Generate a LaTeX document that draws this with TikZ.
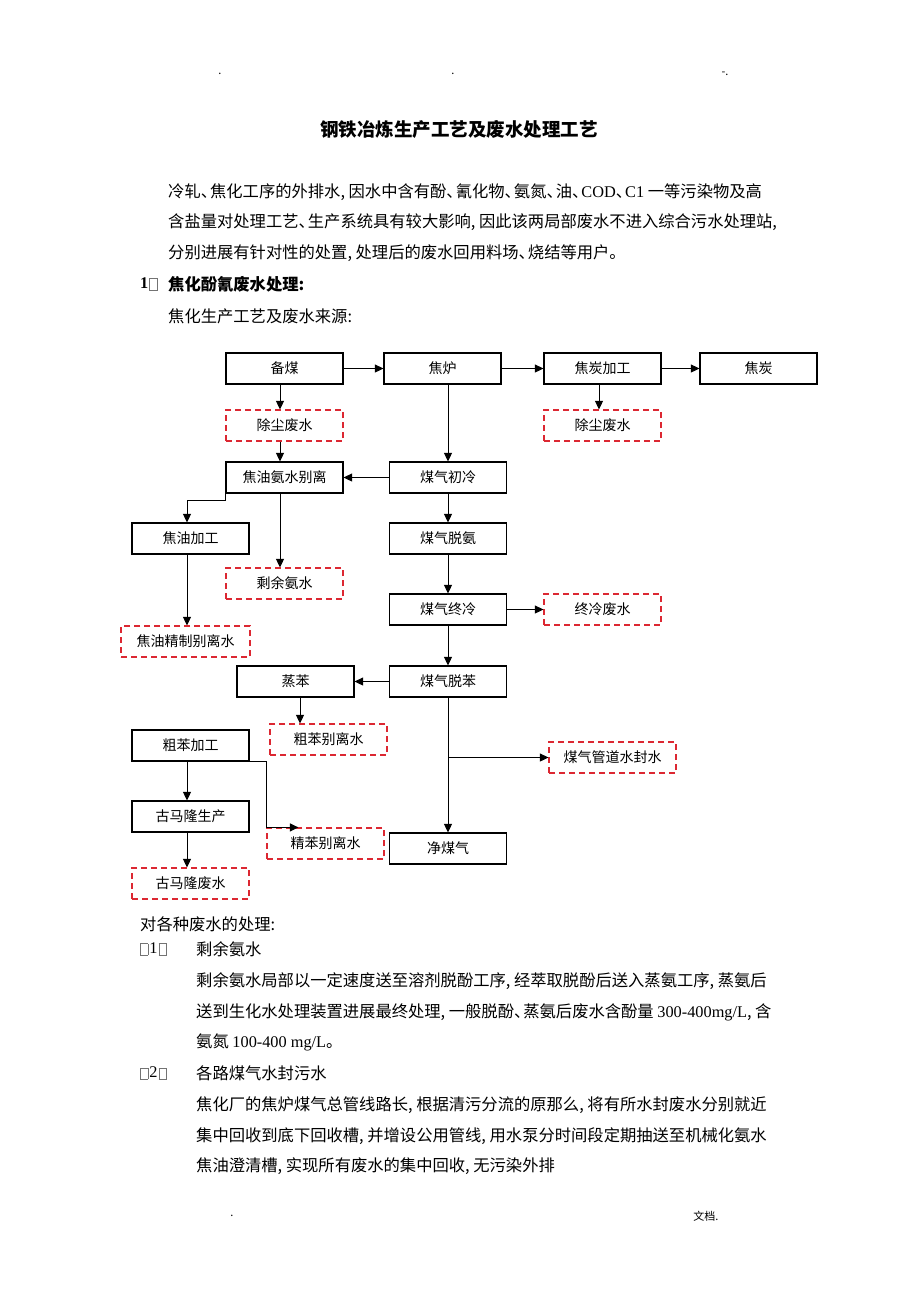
\documentclass[tikz,border=0pt]{standalone}
\usepackage{fontspec}
\setmainfont{Liberation Serif}
\newfontfamily\cjk{Noto Sans CJK SC}
\usetikzlibrary{arrows.meta}
\definecolor{wred}{RGB}{220,40,50}
\newcommand\mbx{\kern1pt{\color{black!55}\fboxsep=0pt\fboxrule=0.6pt\raisebox{-1pt}{\fbox{\rule{0pt}{10.5pt}\rule{7pt}{0pt}}}}\kern1pt}
\newcommand\lat[1]{{\rmfamily #1}}
\newcommand\dun{、\kern-7pt}
\begin{document}
\begin{tikzpicture}[x=1pt,y=-1pt,
 proc/.style={draw=black,line width=1.2pt,minimum width=117pt,minimum height=31pt,inner sep=0pt,font=\cjk\fontsize{14}{14}\selectfont},
 waste/.style={proc,draw=wred,dash pattern=on 6pt off 4pt},
 arr/.style={-{Triangle[length=8.5pt,width=8pt]},line width=1pt},
 body/.style={anchor=west,inner sep=0pt,font=\cjk\fontsize{16.3}{16.3}\selectfont},
 tiny/.style={inner sep=0pt,font=\cjk\fontsize{11}{11}\selectfont}
]
\useasboundingbox[fill=white] (0,0) rectangle (920,1302);

% header / footer marks
\node[tiny] (h1) at (220,74) {.};
\node[tiny] (h2) at (453,74) {.};
\node[tiny] (h3) at (725,74) {-.};
\node[tiny] (f1) at (232,1216) {.};
\node[tiny] (f2) at (706,1216) {文档.};

% title
\node[inner sep=0pt,font=\cjk\bfseries\fontsize{18.5}{18.5}\selectfont] (title) at (459,130) {钢铁冶炼生产工艺及废水处理工艺};

% intro
\node[body] (p1) at (168,192) {冷轧\dun 焦化工序的外排水, 因水中含有酚\dun 氰化物\dun 氨氮\dun 油\dun\lat{COD}\dun\lat{C1} 一等污染物及高};
\node[body] (p2) at (168,222) {含盐量对处理工艺\dun 生产系统具有较大影响, 因此该两局部废水不进入综合污水处理站,};
\node[body] (p3) at (168,253) {分别进展有针对性的处置, 处理后的废水回用料场\dun 烧结等用户。};
\node[body,font=\rmfamily\bfseries\fontsize{16.3}{16.3}\selectfont] (n1) at (140,284) {1\mbx};
\node[body,font=\cjk\bfseries\fontsize{16.3}{16.3}\selectfont] (s1) at (168,284) {焦化酚氰废水处理:};
\node[body] (s2) at (168,316) {焦化生产工艺及废水来源:};

% flowchart
\node[proc] (beimei) at (284.5,368.5) {备煤};
\node[proc] (jiaolu) at (442.5,368.5) {焦炉};
\node[proc] (jtjg) at (602.5,368.5) {焦炭加工};
\node[proc] (jt) at (758.5,368.5) {焦炭};
\node[waste] (ccfs1) at (284.5,425.5) {除尘废水};
\node[waste] (ccfs2) at (602.5,425.5) {除尘废水};
\node[proc] (jyas) at (284.5,477.5) {焦油氨水别离};
\node[proc] (mqcl) at (448,477.5) {煤气初冷};
\node[proc] (jyjg) at (190.5,538.5) {焦油加工};
\node[waste] (syas) at (284.5,583.5) {剩余氨水};
\node[waste,minimum width=129pt] (jyjz) at (185.5,641.5) {焦油精制别离水};
\node[proc] (mqta) at (448,538.5) {煤气脱氨};
\node[proc] (mqzl) at (448,609.5) {煤气终冷};
\node[waste] (zlfs) at (602.5,609.5) {终冷废水};
\node[proc] (mqtb) at (448,681.5) {煤气脱苯};
\node[proc] (zb) at (295.5,681.5) {蒸苯};
\node[waste] (cbfl) at (328.5,739.5) {粗苯别离水};
\node[proc] (cbjg) at (190.5,745.5) {粗苯加工};
\node[proc] (gmlsc) at (190.5,816.5) {古马隆生产};
\node[waste] (gmlfs) at (190.5,883.5) {古马隆废水};
\node[waste] (jbfl) at (325.5,843.5) {精苯别离水};
\node[proc] (jmq) at (448,848.5) {净煤气};
\node[waste,minimum width=127pt] (mqgd) at (612.5,757.5) {煤气管道水封水};

\draw[arr] (beimei) -- (jiaolu);
\draw[arr] (jiaolu) -- (jtjg);
\draw[arr] (jtjg) -- (jt);
\draw[arr] ([xshift=-4.5pt]beimei.south) -- ([xshift=-4.5pt]ccfs1.north);
\draw[arr] ([xshift=-3.5pt]jtjg.south) -- ([xshift=-3.5pt]ccfs2.north);
\draw[arr] ([xshift=-4.5pt]ccfs1.south) -- ([xshift=-4.5pt]jyas.north);
\draw[arr] (mqcl.north |- jiaolu.south) -- (mqcl.north);
\draw[arr] (mqcl.west) -- (jyas.east);
\draw[arr] ([yshift=2pt]jyas.south west) -- ++(0,9) -| ([xshift=-3.5pt]jyjg.north);
\draw[arr] ([xshift=-4.5pt]jyas.south) -- ([xshift=-4.5pt]syas.north);
\draw[arr] ([xshift=-3.5pt]jyjg.south) -- ([xshift=1.5pt]jyjz.north);
\draw[arr] (mqcl) -- (mqta);
\draw[arr] (mqta) -- (mqzl);
\draw[arr] (mqzl) -- (zlfs);
\draw[arr] (mqzl) -- (mqtb);
\draw[arr] (mqtb) -- (zb);
\draw[arr] ([xshift=4.5pt]zb.south) -- ([xshift=-28.5pt]cbfl.north);
\draw[arr] ([xshift=-3.5pt]cbjg.south) -- ([xshift=-3.5pt]gmlsc.north);
\draw[arr] ([xshift=-3.5pt]gmlsc.south) -- ([xshift=-3.5pt]gmlfs.north);
\draw[arr] ([xshift=-17pt]cbjg.south east) -- ++(34,0) |- ([xshift=32pt]jbfl.north west);
\draw[arr] (mqtb) -- (jmq);
\draw[arr] (mqtb.south |- mqgd.west) -- (mqgd.west);

% treatment text
\node[body] (t0) at (140,924) {对各种废水的处理:};
\node[body,font=\rmfamily\fontsize{16.3}{16.3}\selectfont] (n2) at (139,949) {\mbx 1\mbx};
\node[body] (t1) at (196,949) {剩余氨水};
\node[body] (t2) at (196,981) {剩余氨水局部以一定速度送至溶剂脱酚工序, 经萃取脱酚后送入蒸氨工序, 蒸氨后};
\node[body] (t3) at (196,1012) {送到生化水处理装置进展最终处理, 一般脱酚\dun 蒸氨后废水含酚量 \lat{300-400mg/L}, 含};
\node[body] (t4) at (196,1042) {氨氮 \lat{100-400 mg/L}。};
\node[body,font=\rmfamily\fontsize{16.3}{16.3}\selectfont] (n3) at (139,1073) {\mbx 2\mbx};
\node[body] (t5) at (196,1073) {各路煤气水封污水};
\node[body] (t6) at (196,1105) {焦化厂的焦炉煤气总管线路长, 根据清污分流的原那么, 将有所水封废水分别就近};
\node[body] (t7) at (196,1136) {集中回收到底下回收槽, 并增设公用管线, 用水泵分时间段定期抽送至机械化氨水};
\node[body] (t8) at (196,1166) {焦油澄清槽, 实现所有废水的集中回收, 无污染外排};
\end{tikzpicture}
\end{document}
